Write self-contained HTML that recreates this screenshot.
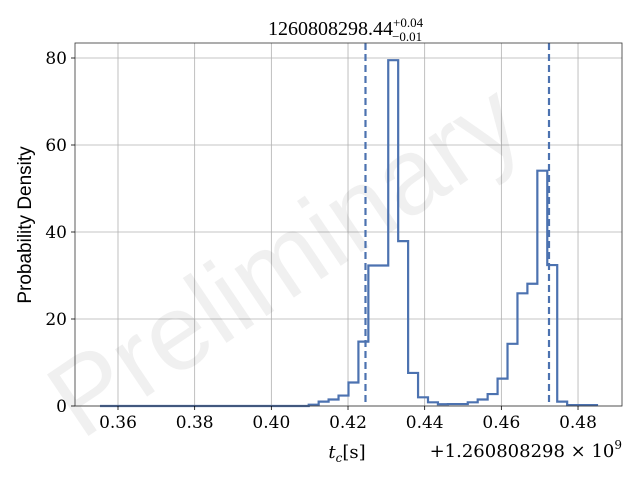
<!DOCTYPE html>
<html><head><meta charset="utf-8"><style>
body{margin:0;background:#fff;width:640px;height:480px;overflow:hidden}
svg text{font-family:"DejaVu Serif","Liberation Serif",serif}
</style></head><body>
<svg id="chart" width="640" height="480" viewBox="0 0 640 480" xmlns="http://www.w3.org/2000/svg">
<g id="grid"></g>
<text x="305" y="290" text-anchor="middle" font-size="108" fill="#000" fill-opacity="0.06" transform="rotate(-34 305 290)" style="font-family:'Liberation Sans',sans-serif">Preliminary</text>
<g id="marks"></g>
<rect x="75" y="43" width="547" height="363" fill="none" stroke="#333" stroke-width="0.8"/>
<g id="ticks"></g>
<text x="268" y="35" font-size="20" style="font-family:'Liberation Serif',serif">1260808298.44<tspan font-size="13" dy="-8">+0.04</tspan><tspan font-size="13" dx="-31" dy="14">−0.01</tspan></text>
<text transform="rotate(-90)" x="-225" y="31" text-anchor="middle" font-size="19" style="font-family:'Liberation Sans',sans-serif">Probability Density</text>
<text x="347" y="458" text-anchor="middle" font-size="18"><tspan font-style="italic">t</tspan><tspan font-size="12" dy="4" font-style="italic">c</tspan><tspan dy="-4">[s]</tspan></text>
<text x="622" y="457" text-anchor="end" font-size="18">+1.260808298 × 10<tspan font-size="12" dy="-8">9</tspan></text>
</svg>
<script>
const binStart = 0.3553;
const binWidth = 0.0025929;
const densities = [0,0,0,0,0,0,0,0,0,0,0,0,0,0,0,0,0,0,0,0,0,0.3,1.0,1.5,2.4,5.4,14.8,32.3,32.3,79.5,37.9,7.6,2.0,0.85,0.4,0.45,0.45,0.85,1.5,2.75,6.3,14.3,25.9,28.1,54.1,32.4,1.0,0.2,0.2,0.2];
const quantiles = [0.42456, 0.47243];
const xTicks = [0.36,0.38,0.40,0.42,0.44,0.46,0.48];
const yTicks = [0,20,40,60,80];
const NS='http://www.w3.org/2000/svg';
const X=v=>118+(v-0.36)*3833.5;
const Y=v=>406-v*4.35;
const grid=document.getElementById('grid'),marks=document.getElementById('marks'),ticks=document.getElementById('ticks');
function mk(tag,attrs,parent){const e=document.createElementNS(NS,tag);for(const k in attrs)e.setAttribute(k,attrs[k]);parent.appendChild(e);return e;}
xTicks.forEach(t=>{
  const g=mk('line',{x1:X(t),x2:X(t),y1:43,y2:406,stroke:'#b0b0b0','stroke-width':0.8},grid);
  
  
  const tk=mk('line',{x1:X(t),x2:X(t),y1:406,y2:410,stroke:'#000','stroke-width':0.8},ticks);
  
  
  const tx=mk('text',{x:X(t),y:428,'text-anchor':'middle','font-size':17},ticks);
  tx.textContent=t.toFixed(2);
  
  
});
yTicks.forEach(t=>{
  const g=mk('line',{x1:75,x2:622,y1:Y(t),y2:Y(t),stroke:'#b0b0b0','stroke-width':0.8},grid);
  
  
  const tk=mk('line',{x1:71,x2:75,y1:Y(t),y2:Y(t),stroke:'#000','stroke-width':0.8},ticks);
  
  
  const tx=mk('text',{x:67,y:Y(t)+6,'text-anchor':'end','font-size':17},ticks);
  tx.textContent=t;
  
  
});
let d='M'+X(binStart)+','+Y(0);
densities.forEach((v,i)=>{const x0=X(binStart+i*binWidth),x1=X(binStart+(i+1)*binWidth);d+=' L'+x0+','+Y(v)+' L'+x1+','+Y(v);});
d+=' L'+X(binStart+densities.length*binWidth)+','+Y(0);
const p=mk('path',{d:d,fill:'none',stroke:'#4c72b0','stroke-width':2.2,'stroke-linejoin':'miter'},marks);


quantiles.forEach(q=>{
  const l=mk('line',{x1:X(q),x2:X(q),y1:43,y2:406,stroke:'#4c72b0','stroke-width':2.2,'stroke-dasharray':'7,4'},marks);
  
  
});
</script>
</body></html>
